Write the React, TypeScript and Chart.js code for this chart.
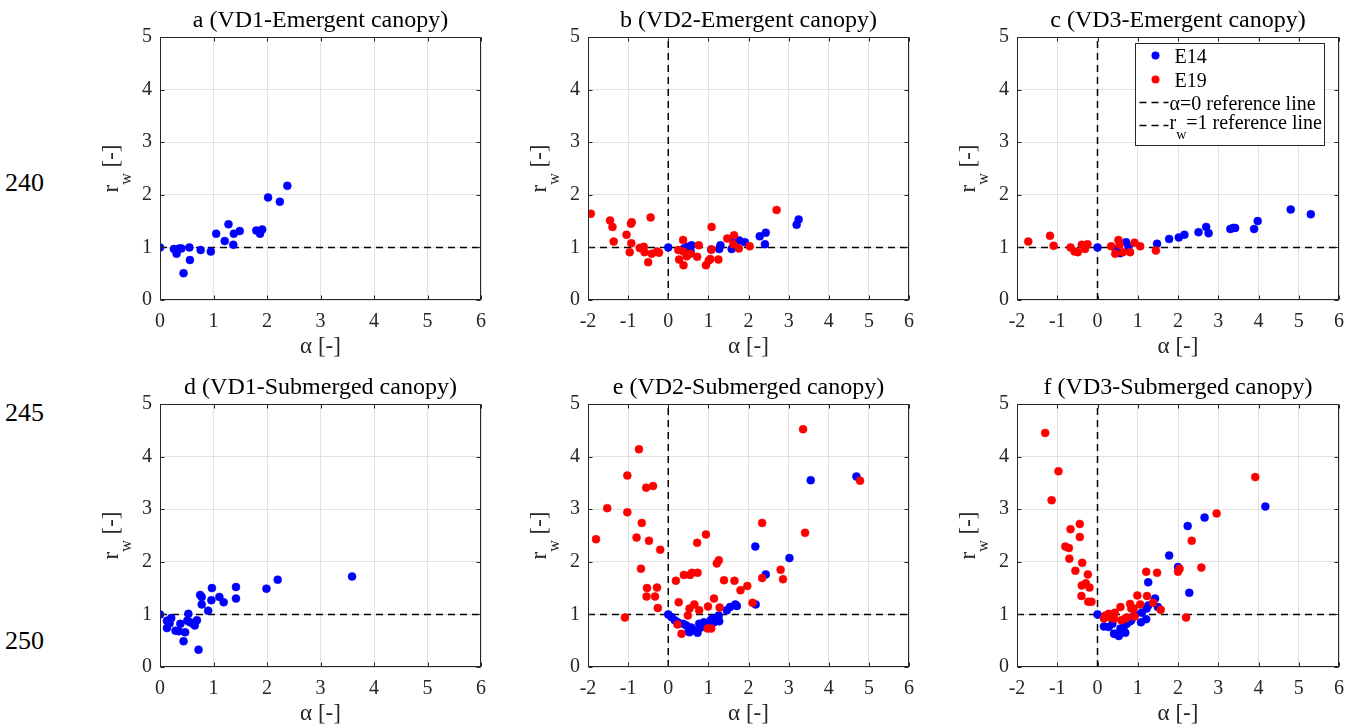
import React, { useEffect, useRef } from 'react';
import { Chart, registerables } from 'chart.js';
Chart.register(...registerables);

const FONT = '"Liberation Serif", "Times New Roman", Times, serif';

// ---------- data (alpha [-], r_w [-]) ----------
const aE14Alpha = [0, 0.26, 0.31, 0.36, 0.40, 0.44, 0.55, 0.56, 0.76, 0.95, 1.05, 1.21, 1.28, 1.37, 1.38, 1.49, 1.80, 1.87, 1.91, 2.02, 2.24, 2.38];
const aE14Rw = [1.00, 0.97, 0.88, 0.98, 0.98, 0.51, 1.00, 0.76, 0.95, 0.92, 1.26, 1.12, 1.44, 1.05, 1.26, 1.31, 1.32, 1.26, 1.34, 1.95, 1.87, 2.17];

const bE14Alpha = [0, 0.39, 0.48, 0.56, 0.58, 1.07, 1.27, 1.30, 1.58, 1.64, 1.77, 1.91, 2.28, 2.41, 2.43, 3.20, 3.25];
const bE14Rw = [1.00, 0.98, 1.01, 0.92, 1.04, 0.96, 0.97, 1.04, 0.97, 1.11, 1.13, 1.10, 1.21, 1.06, 1.28, 1.43, 1.53];
const bE19Alpha = [-1.93, -1.45, -1.39, -1.36, -1.04, -0.96, -0.93, -0.92, -0.91, -0.71, -0.61, -0.59, -0.50, -0.44, -0.41, -0.28, -0.23, 0.25, 0.27, 0.37, 0.38, 0.38, 0.46, 0.55, 0.72, 0.76, 0.94, 1.01, 1.05, 1.08, 1.08, 1.25, 1.47, 1.62, 1.64, 1.76, 2.03, 2.70];
const bE19Rw = [1.64, 1.51, 1.39, 1.11, 1.24, 0.91, 1.45, 1.08, 1.48, 0.99, 1.01, 0.91, 0.72, 1.57, 0.88, 0.92, 0.90, 0.95, 0.77, 1.14, 0.92, 0.66, 0.83, 0.88, 0.82, 1.04, 0.66, 0.75, 0.78, 1.39, 0.96, 0.77, 1.17, 1.06, 1.23, 0.98, 1.02, 1.71];

const cE14Alpha = [0, 0.46, 0.56, 0.71, 0.77, 1.48, 1.78, 2.02, 2.16, 2.51, 2.70, 2.76, 3.30, 3.37, 3.42, 3.89, 3.98, 4.80, 5.30];
const cE14Rw = [1.00, 0.96, 0.89, 1.10, 1.01, 1.07, 1.16, 1.19, 1.24, 1.29, 1.39, 1.27, 1.35, 1.37, 1.37, 1.35, 1.50, 1.72, 1.63];
const cE19Alpha = [-1.72, -1.18, -1.09, -0.67, -0.57, -0.49, -0.39, -0.31, -0.25, 0.34, 0.44, 0.52, 0.55, 0.63, 0.81, 0.92, 1.06, 1.45];
const cE19Rw = [1.11, 1.22, 1.03, 1.00, 0.92, 0.91, 1.05, 0.97, 1.06, 1.02, 0.88, 1.14, 1.05, 0.91, 0.91, 1.09, 1.02, 0.94];

const dE14Alpha = [0, 0.13, 0.13, 0.18, 0.21, 0.29, 0.35, 0.38, 0.44, 0.47, 0.51, 0.53, 0.56, 0.62, 0.65, 0.69, 0.72, 0.75, 0.78, 0.78, 0.90, 0.96, 0.97, 1.11, 1.19, 1.42, 1.42, 1.99, 2.20, 3.59];
const dE14Rw = [1.00, 0.88, 0.74, 0.83, 0.93, 0.69, 0.68, 0.82, 0.49, 0.66, 0.88, 1.01, 0.85, 0.82, 0.79, 0.89, 0.33, 1.37, 1.33, 1.19, 1.07, 1.27, 1.50, 1.33, 1.23, 1.52, 1.30, 1.49, 1.66, 1.72];

const eE14Alpha = [0, 0.08, 0.16, 0.24, 0.37, 0.45, 0.51, 0.53, 0.57, 0.65, 0.73, 0.77, 0.81, 0.89, 0.90, 0.98, 1.06, 1.10, 1.14, 1.20, 1.26, 1.27, 1.46, 1.54, 1.67, 1.71, 2.17, 2.18, 2.43, 3.02, 3.55, 4.69];
const eE14Rw = [1.00, 0.95, 0.89, 0.85, 0.82, 0.79, 0.68, 0.66, 0.75, 0.70, 0.65, 0.82, 0.75, 0.85, 0.79, 0.79, 0.89, 0.92, 0.85, 0.90, 0.98, 0.87, 1.08, 1.14, 1.19, 1.16, 2.29, 1.19, 1.76, 2.07, 3.55, 3.62];
const eE19Alpha = [-1.80, -1.52, -1.08, -1.02, -1.02, -0.79, -0.73, -0.68, -0.66, -0.55, -0.54, -0.53, -0.48, -0.38, -0.33, -0.28, -0.26, -0.20, 0.19, 0.23, 0.26, 0.33, 0.39, 0.49, 0.53, 0.54, 0.59, 0.65, 0.72, 0.73, 0.77, 0.94, 0.99, 0.98, 1.07, 1.14, 1.21, 1.26, 1.28, 1.39, 1.65, 1.80, 1.97, 2.10, 2.34, 2.34, 2.80, 2.86, 3.36, 3.41, 4.78];
const eE19Rw = [2.43, 3.02, 0.94, 3.64, 2.94, 2.46, 4.14, 1.87, 2.74, 3.41, 1.34, 1.50, 2.40, 3.44, 1.34, 1.51, 1.12, 2.23, 1.64, 0.81, 1.23, 0.63, 1.75, 0.98, 1.11, 1.75, 1.79, 1.19, 2.36, 1.79, 1.08, 2.52, 1.15, 0.73, 0.73, 1.30, 1.97, 2.03, 1.13, 1.65, 1.64, 1.46, 1.54, 1.22, 2.74, 1.69, 1.85, 1.67, 4.52, 2.55, 3.54];

const fE14Alpha = [0, 0.16, 0.28, 0.37, 0.41, 0.45, 0.53, 0.57, 0.61, 0.65, 0.69, 0.73, 0.81, 0.84, 0.93, 1.08, 1.10, 1.21, 1.22, 1.26, 1.26, 1.43, 1.50, 1.78, 2.00, 2.24, 2.28, 2.66, 4.17];
const fE14Rw = [1.00, 0.77, 0.76, 0.82, 0.63, 0.63, 0.59, 0.73, 0.66, 0.76, 0.65, 0.82, 0.87, 0.89, 1.00, 0.85, 1.03, 0.91, 1.11, 1.61, 1.17, 1.30, 1.14, 2.12, 1.90, 2.68, 1.41, 2.84, 3.05];
const fE19Alpha = [-1.30, -1.14, -0.97, -0.80, -0.71, -0.70, -0.67, -0.55, -0.44, -0.44, -0.38, -0.39, -0.40, -0.29, -0.24, -0.20, -0.23, -0.15, 0.16, 0.20, 0.28, 0.33, 0.41, 0.43, 0.57, 0.59, 0.69, 0.73, 0.81, 0.84, 0.90, 0.92, 0.99, 1.06, 1.21, 1.23, 1.38, 1.48, 1.57, 2.00, 2.04, 2.20, 2.34, 2.58, 2.96, 3.92];
const fE19Rw = [4.45, 3.17, 3.72, 2.29, 2.26, 2.06, 2.62, 1.83, 2.72, 2.47, 1.98, 1.55, 1.35, 1.59, 1.76, 1.51, 1.24, 1.24, 0.92, 0.98, 1.01, 0.94, 0.92, 1.03, 1.14, 0.89, 0.92, 0.94, 1.20, 1.11, 1.11, 0.96, 1.36, 1.19, 1.81, 1.35, 1.22, 1.79, 1.09, 1.81, 1.87, 0.94, 2.40, 1.89, 2.92, 3.61];

const xTicksFrom0 = [0, 1, 2, 3, 4, 5, 6];
const xTicksFromMinus2 = [-2, -1, 0, 1, 2, 3, 4, 5, 6];
const yTicks = [0, 1, 2, 3, 4, 5];
const lineNumbers = ['240', '245', '250'];

// ---------- layout ----------
const YW = 75; // y-axis box width
const PT = 37; // space above plot
const PR = 11;
const XH = 60; // x-axis box height
const PH = 263;

type Panel = {
  title: string;
  xTicks: number[];
  e14: [number[], number[]];
  e19: [number[], number[]] | null;
  vline: boolean;
  legend: boolean;
  L: number;
  T: number;
  W: number;
};

const panels: Panel[] = [
  { title: 'a (VD1-Emergent canopy)', xTicks: xTicksFrom0, e14: [aE14Alpha, aE14Rw], e19: null, vline: false, legend: false, L: 160, T: 37, W: 325 },
  { title: 'b (VD2-Emergent canopy)', xTicks: xTicksFromMinus2, e14: [bE14Alpha, bE14Rw], e19: [bE19Alpha, bE19Rw], vline: true, legend: false, L: 588, T: 37, W: 325 },
  { title: 'c (VD3-Emergent canopy)', xTicks: xTicksFromMinus2, e14: [cE14Alpha, cE14Rw], e19: [cE19Alpha, cE19Rw], vline: true, legend: true, L: 1017, T: 37, W: 326 },
  { title: 'd (VD1-Submerged canopy)', xTicks: xTicksFrom0, e14: [dE14Alpha, dE14Rw], e19: null, vline: false, legend: false, L: 160, T: 404, W: 325 },
  { title: 'e (VD2-Submerged canopy)', xTicks: xTicksFromMinus2, e14: [eE14Alpha, eE14Rw], e19: [eE19Alpha, eE19Rw], vline: true, legend: false, L: 588, T: 404, W: 325 },
  { title: 'f (VD3-Submerged canopy)', xTicks: xTicksFromMinus2, e14: [fE14Alpha, fE14Rw], e19: [fE19Alpha, fE19Rw], vline: true, legend: false, L: 1017, T: 404, W: 326 },
];

const zip = (xs: number[], ys: number[]) => xs.map((x, i) => ({ x, y: ys[i] }));

const AX = '#262626';
const BLUE = '#0000ff';
const RED = '#ff0000';
const DASH = [7, 5];

function drawSubText(ctx: CanvasRenderingContext2D, parts: { t: string; sub?: boolean }[], x: number, y: number, size: number, subSize: number, subDrop: number, center: boolean) {
  let total = 0;
  const widths = parts.map((p) => {
    ctx.font = `${p.sub ? subSize : size}px ${FONT}`;
    const w = ctx.measureText(p.t).width;
    total += w;
    return w;
  });
  let cx = center ? x - total / 2 : x;
  parts.forEach((p, i) => {
    ctx.font = `${p.sub ? subSize : size}px ${FONT}`;
    ctx.fillText(p.t, cx, y + (p.sub ? subDrop : 0));
    cx += widths[i];
  });
}

function makeFrame(p: Panel) {
  return {
    id: 'frame',
    afterDraw(chart: any) {
      const { ctx, chartArea: a, scales } = chart;
      ctx.save();
      const l = Math.round(a.left) + 0.5;
      const r = Math.round(a.right) - 0.5;
      const t = Math.round(a.top) + 0.5;
      const b = Math.round(a.bottom) - 0.5;
      ctx.strokeStyle = AX;
      ctx.lineWidth = 1;
      ctx.setLineDash([]);
      ctx.beginPath();
      p.xTicks.forEach((v) => {
        const px = Math.round(scales.x.getPixelForValue(v)) + 0.5;
        ctx.moveTo(px, b); ctx.lineTo(px, b - 4);
        ctx.moveTo(px, t); ctx.lineTo(px, t + 4);
      });
      yTicks.forEach((v) => {
        const py = Math.round(scales.y.getPixelForValue(v)) + 0.5;
        ctx.moveTo(l, py); ctx.lineTo(l + 4, py);
        ctx.moveTo(r, py); ctx.lineTo(r - 4, py);
      });
      ctx.stroke();
      ctx.strokeRect(l, t, r - l, b - t);

      // title
      ctx.fillStyle = '#000';
      ctx.textAlign = 'center';
      ctx.textBaseline = 'alphabetic';
      ctx.font = `24px ${FONT}`;
      ctx.fillText(p.title, (a.left + a.right) / 2, a.top - 10);

      // x label
      ctx.fillStyle = AX;
      ctx.textBaseline = 'middle';
      ctx.font = `23px ${FONT}`;
      ctx.fillText('\u03b1 [-]', (a.left + a.right) / 2, a.bottom + 47);

      // y label
      ctx.save();
      ctx.translate(a.left - 42, (a.top + a.bottom) / 2);
      ctx.rotate(-Math.PI / 2);
      ctx.textAlign = 'left';
      ctx.textBaseline = 'alphabetic';
      drawSubText(ctx, [{ t: 'r' }, { t: 'w', sub: true }, { t: ' [-]' }], 0, 0, 23, 16, 13, true);
      ctx.restore();

      if (p.legend) {
        const bx = Math.round(a.right - 204) + 0.5;
        const by = Math.round(a.top + 6) + 0.5;
        const bw = 189;
        const bh = 102;
        ctx.fillStyle = '#fff';
        ctx.fillRect(bx, by, bw, bh);
        ctx.strokeStyle = AX;
        ctx.lineWidth = 1;
        ctx.strokeRect(bx, by, bw, bh);
        ctx.textAlign = 'left';
        ctx.textBaseline = 'alphabetic';
        const rows = [by + 12, by + 36, by + 59, by + 82];
        ctx.fillStyle = BLUE;
        ctx.beginPath(); ctx.arc(bx + 20, rows[0], 4, 0, Math.PI * 2); ctx.fill();
        ctx.fillStyle = RED;
        ctx.beginPath(); ctx.arc(bx + 20, rows[1], 4, 0, Math.PI * 2); ctx.fill();
        ctx.strokeStyle = '#000';
        ctx.lineWidth = 1.5;
        ctx.setLineDash(DASH);
        [rows[2], rows[3]].forEach((yy) => {
          ctx.beginPath(); ctx.moveTo(bx + 4, yy); ctx.lineTo(bx + 33, yy); ctx.stroke();
        });
        ctx.setLineDash([]);
        ctx.fillStyle = '#000';
        ctx.font = `20px ${FONT}`;
        ctx.fillText('E14', bx + 39, rows[0] + 7);
        ctx.fillText('E19', bx + 39, rows[1] + 7);
        ctx.fillText('\u03b1=0 reference line', bx + 34, rows[2] + 7);
        drawSubText(ctx, [{ t: 'r' }, { t: 'w', sub: true }, { t: '=1 reference line' }], bx + 34, rows[3] + 3, 20, 14, 10, false);
      }
      ctx.restore();
    },
  };
}

function PanelChart({ p }: { p: Panel }) {
  const ref = useRef<HTMLCanvasElement>(null);
  const cw = YW + p.W + PR;
  const ch = PT + PH + XH;
  useEffect(() => {
    const xMin = p.xTicks[0];
    const xMax = p.xTicks[p.xTicks.length - 1];
    const datasets: any[] = [];
    if (p.e19) {
      datasets.push({ label: 'E19', data: zip(p.e19[0], p.e19[1]), backgroundColor: RED, borderColor: RED, borderWidth: 0.5, pointRadius: 4, order: 0 });
    }
    datasets.push({ label: 'E14', data: zip(p.e14[0], p.e14[1]), backgroundColor: BLUE, borderColor: BLUE, borderWidth: 0.5, pointRadius: 4, order: 1 });
    datasets.push({ label: 'r_w=1 reference line', data: [{ x: xMin, y: 1 }, { x: xMax, y: 1 }], showLine: true, borderColor: '#000', borderWidth: 1.5, borderDash: DASH, pointRadius: 0, order: 3 });
    if (p.vline) {
      datasets.push({ label: '\u03b1=0 reference line', data: [{ x: 0, y: 0 }, { x: 0, y: 5 }], showLine: true, borderColor: '#000', borderWidth: 1.5, borderDash: DASH, pointRadius: 0, order: 3 });
    }
    const chart = new Chart(ref.current as HTMLCanvasElement, {
      type: 'scatter',
      data: { datasets },
      options: {
        animation: false,
        responsive: false,
        maintainAspectRatio: false,
        devicePixelRatio: 1,
        layout: { padding: { top: PT, right: PR, left: 0, bottom: 0 } },
        plugins: { legend: { display: false }, tooltip: { enabled: false }, title: { display: false } },
        scales: {
          x: {
            type: 'linear',
            min: xMin,
            max: xMax,
            afterFit: (s: any) => { s.height = XH; },
            afterBuildTicks: (s: any) => { s.ticks = p.xTicks.map((v) => ({ value: v })); },
            ticks: { color: AX, font: { family: FONT, size: 20 }, padding: 10, callback: (v: any) => String(v) },
            grid: { color: '#e2e2e2', lineWidth: 1, drawTicks: false },
            border: { display: false },
          },
          y: {
            type: 'linear',
            min: 0,
            max: 5,
            afterFit: (s: any) => { s.width = YW; },
            afterBuildTicks: (s: any) => { s.ticks = yTicks.map((v) => ({ value: v })); },
            ticks: { color: AX, font: { family: FONT, size: 20 }, padding: 8, callback: (v: any) => String(v) },
            grid: { color: '#e2e2e2', lineWidth: 1, drawTicks: false },
            border: { display: false },
          },
        },
      } as any,
      plugins: [makeFrame(p)],
    });
    return () => chart.destroy();
  }, []);
  return (
    <canvas
      ref={ref}
      width={cw}
      height={ch}
      style={{ position: 'absolute', left: p.L - YW, top: p.T - PT, width: cw, height: ch }}
    />
  );
}

export default function App() {
  const lineTops = [170, 400, 628];
  return (
    <div style={{ position: 'absolute', left: 0, top: 0, width: 1354, height: 728, overflow: 'hidden', background: '#fff' }}>
      {lineNumbers.map((n, i) => (
        <div key={n} style={{ position: 'absolute', left: 5, top: lineTops[i], fontFamily: FONT, fontSize: 26, lineHeight: '26px', color: '#000' }}>{n}</div>
      ))}
      {panels.map((p, i) => (
        <PanelChart key={i} p={p} />
      ))}
    </div>
  );
}
